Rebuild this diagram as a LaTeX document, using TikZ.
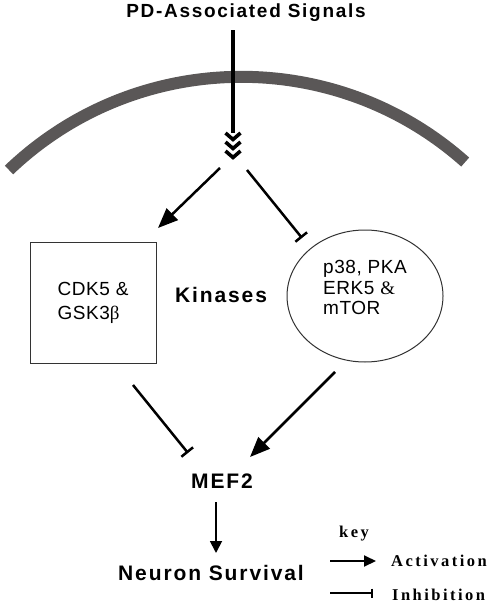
\documentclass[tikz,border=0pt]{standalone}
\usepackage{fontspec}
\setmainfont{Liberation Sans}
\newfontfamily\headfont[LetterSpace=9]{Liberation Sans}
\newfontfamily\kinfont[LetterSpace=3]{Liberation Sans}
\newfontfamily\keyfont[LetterSpace=15]{Liberation Serif}
\newfontfamily\serifsym{Liberation Serif}
\usetikzlibrary{positioning,arrows.meta,calc,shapes.geometric}
\definecolor{membranegray}{HTML}{5A5757}

\begin{document}
\begin{tikzpicture} [
        x=1pt, y=-1pt,
        headnode/.style={
            inner sep=0pt,
            anchor=base,
            font=\headfont\bfseries\fontsize{19}{22}\selectfont
        },
        bignode/.style={
            inner sep=0pt,
            anchor=base,
            font=\headfont\bfseries\fontsize{21}{24}\selectfont
        },
        kinbox/.style={
            rectangle,
            draw=black!80,
            line width=1pt,
            minimum width=126pt,
            minimum height=121pt,
            align=left,
            font=\kinfont\fontsize{19}{24}\selectfont
        },
        kinoval/.style={
            ellipse,
            draw=black!80,
            line width=1pt,
            minimum width=156pt,
            minimum height=132pt,
            inner sep=0pt,
            align=left,
            font=\kinfont\fontsize{19}{20.5}\selectfont
        },
        keynode/.style={
            inner sep=0pt,
            font=\keyfont\bfseries\fontsize{16.5}{18}\selectfont
        },
        membrane/.style={line width=12pt, draw=membranegray},
        chevron/.style={line width=3.6pt, miter limit=10},
        act/.style={line width=2.5pt, -{Triangle[length=20pt,width=16pt]}},
        inh/.style={line width=2.5pt, -{Bar[width=15pt,line width=2.5pt]}},
        smallact/.style={line width=1.8pt, -{Triangle[length=12pt,width=12pt]}}
    ]

        \useasboundingbox (0,0) rectangle (490,604);

        % membrane
        \draw[membrane] (9,170) arc[start angle=133.7, end angle=48.3, radius=336.4pt];

        \node[headnode] (title) at (246,18) {PD-Associated Signals};

        \coordinate (chev) at (233,133);
        \draw[line width=3.3pt] (chev |- title.south) ++(0,8) -- (chev);
        \foreach \d in {0,9,18}
            \draw[chevron] ($(chev)+(-7.5,\d)$) -- ++(7.5,6.5) -- ++(7.5,-6.5);

        \node[kinbox]   (cdk)  at (93,302.5)  {CDK5 \&\\GSK3{\serifsym β}};
        \node[bignode]  (kin)  at (221,302)   {Kinases};
        \node[kinoval]  (mtor) at (365,296)   {p38, PKA\\ERK5 {\serifsym\&}\\mTOR\\[-4pt]};

        \node[bignode]  (mef)  at (222,488)   {MEF2};
        \node[bignode]  (surv) at (211,580)   {Neuron Survival};

        % connectors
        \coordinate (forkL)   at (220,168);
        \coordinate (cdkIn)   at (158,228);
        \coordinate (forkR)   at (247,170);
        \coordinate (mtorIn)  at (302,238);
        \coordinate (cdkOut)  at (133,385);
        \coordinate (mefL)    at (188,453);
        \coordinate (mtorOut) at (335,372);
        \coordinate (mefR)    at (250,457);

        \draw[act] (forkL) -- (cdkIn);
        \draw[inh] (forkR) -- (mtorIn);
        \draw[inh] (cdkOut) -- (mefL);
        \draw[act] (mtorOut) -- (mefR);
        \draw[smallact] (216,502) coordinate (mefDown) -- (216,553) coordinate (survUp);

        % key
        \node[keynode, anchor=base]      (key)   at (354,537) {key};
        \node[keynode, anchor=base west] (keyact) at (391,566) {Activation};
        \node[keynode, anchor=base west] (keyinh) at (392,600) {Inhibition};
        \coordinate (actL) at (330,561);
        \coordinate (actR) at (376,561);
        \coordinate (inhL) at (330,593);
        \coordinate (inhR) at (373,593);
        \draw[line width=2pt, -{Triangle[length=12pt,width=11pt]}] (actL) -- (actR);
        \draw[line width=1.6pt, -{Bar[width=9pt,line width=1.6pt]}] (inhL) -- (inhR);

    \end{tikzpicture}
\end{document}
